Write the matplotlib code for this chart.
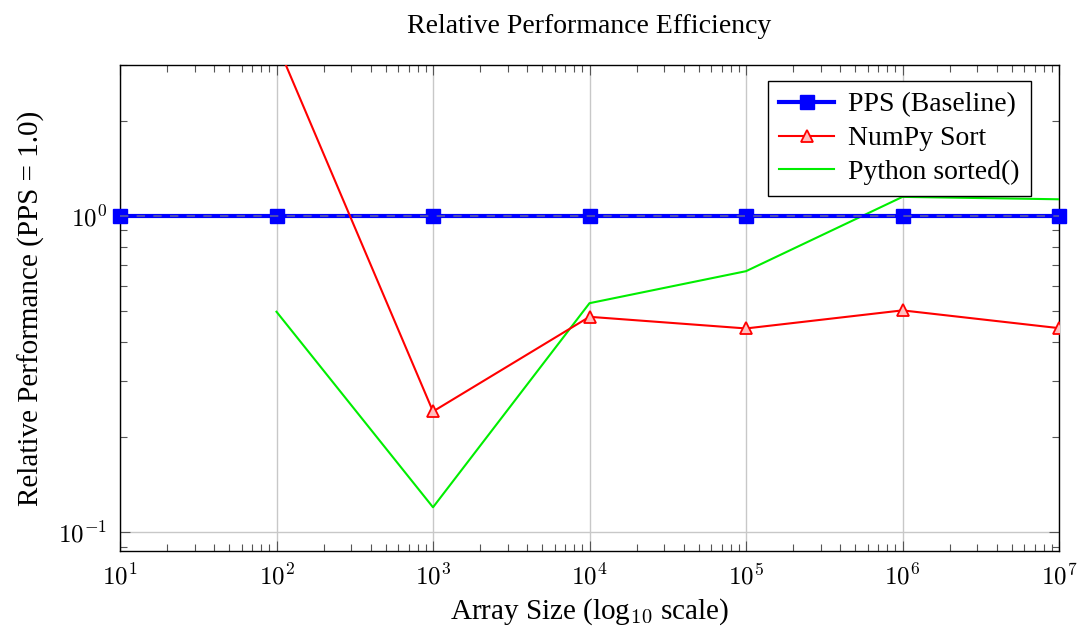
import numpy as np
import matplotlib
matplotlib.use("Agg")
import matplotlib.pyplot as plt
from matplotlib.ticker import LogLocator, NullFormatter

plt.rcParams['font.family'] = ['Liberation Serif', 'DejaVu Serif']
plt.rcParams['mathtext.fontset'] = 'cm'

# data
sizes_pps = [1e1, 1e2, 1e3, 1e4, 1e5, 1e6, 1e7]
pps = [1.0, 1.0, 1.0, 1.0, 1.0, 1.0, 1.0]
sizes = [1e2, 1e3, 1e4, 1e5, 1e6, 1e7]
numpy_sort = [3.52, 0.241, 0.480, 0.441, 0.503, 0.442]
py_sorted = [0.498, 0.120, 0.530, 0.669, 1.149, 1.129]
x_ticks = [1e1, 1e2, 1e3, 1e4, 1e5, 1e6, 1e7]
x_ticklabels = ['$10^{%d}$' % k for k in range(1, 8)]
y_ticks = [0.1, 1.0]
y_ticklabels = ['$10^{-1}$', '$10^{0}$']

fig = plt.figure(figsize=(10.81, 6.33), dpi=100)
ax = fig.add_axes([120 / 1081, 1 - 551 / 633, 939 / 1081, 486 / 633])

ax.plot(sizes_pps, pps, color='blue', lw=3, marker='s', ms=10,
        mfc='blue', mec='blue', label='PPS (Baseline)', zorder=4, clip_on=False)
ax.plot(sizes, numpy_sort, color='red', lw=1.5, marker='^', ms=8,
        mfc=(1, 0.75, 0.75), mec='red', mew=1.3, label='NumPy Sort', zorder=5)
ax.plot(sizes, py_sorted, color='#00ee00', lw=1.5, label='Python sorted()', zorder=3)
ax.axhline(1.0, color='gray', lw=1.2, ls=(0, (5, 5)), alpha=0.7, zorder=6)

ax.set_xscale('log')
ax.set_yscale('log')
ax.set_xlim(1e1, 1e7)
ax.set_ylim(0.0873, 3.0)

ax.set_xticks(x_ticks, x_ticklabels)
ax.set_yticks(y_ticks, y_ticklabels)
ax.xaxis.set_minor_locator(LogLocator(base=10, subs=np.arange(2, 10), numticks=20))
ax.yaxis.set_minor_locator(LogLocator(base=10, subs=np.arange(2, 10), numticks=20))
ax.xaxis.set_minor_formatter(NullFormatter())
ax.yaxis.set_minor_formatter(NullFormatter())

ax.grid(True, which='major', color='#c8c8c8', lw=1)
ax.set_axisbelow(True)
ax.tick_params(which='both', direction='in', top=True, right=True, color='#555555')
ax.tick_params(which='major', length=7, width=0.8, labelsize=18, pad=9)
ax.tick_params(which='minor', length=5, width=0.8)
for s in ax.spines.values():
    s.set_linewidth(1.0)

ax.set_title('Relative Performance Efficiency', fontsize=20, pad=23)
ax.set_xlabel('Array Size (log$_{10}$ scale)', fontsize=21, labelpad=5)
ax.set_ylabel('Relative Performance (PPS = 1.0)', fontsize=21, labelpad=10)

leg = ax.legend(loc='upper right', bbox_to_anchor=(0.970, 0.967), borderaxespad=0,
                fontsize=20, fancybox=False, framealpha=1, edgecolor='black',
                borderpad=0.4, labelspacing=0.3, handlelength=2.0, handletextpad=0.5)
leg.get_frame().set_linewidth(1.0)

fig.savefig('out.png', dpi=100)
